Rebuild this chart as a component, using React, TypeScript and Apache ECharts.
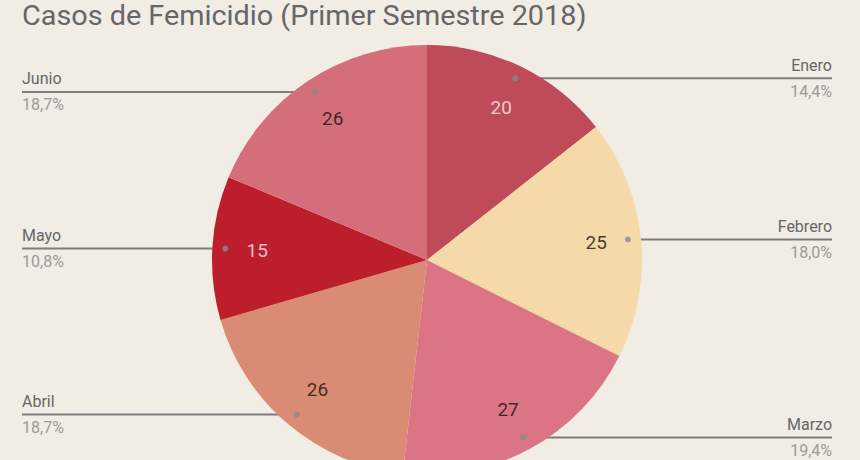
import { useEffect, useRef } from 'react';
import * as echarts from 'echarts';

const titulo = 'Casos de Femicidio (Primer Semestre 2018)';
const meses = ['Enero', 'Febrero', 'Marzo', 'Abril', 'Mayo', 'Junio'];
const casos = [20, 25, 27, 26, 15, 26];
const colores = ['#be4a5a', '#f6d9a9', '#db7585', '#d98b73', '#bd1e2c', '#d56e7b'];
const coloresValor = ['#f7ecec', '#141010', '#141010', '#141010', '#f7ecec', '#141010'];

const FONT = 'Roboto, "Noto Sans", sans-serif';
const CENTER = [427, 260];
const RADIUS = 215;

export default function App() {
  const chartRef = useRef<HTMLDivElement>(null);

  useEffect(() => {
    if (!chartRef.current) return;
    const chart = echarts.init(chartRef.current, undefined, { renderer: 'svg' });

    const total = casos.reduce((a, b) => a + b, 0);
    // middle of each slice, in "cases" units along the angle axis
    const mitades = casos.map((v, i) => casos.slice(0, i).reduce((a, b) => a + b, 0) + v / 2);

    const pieData = meses.map((m, i) => ({
      name: m,
      value: casos[i],
      itemStyle: { color: colores[i] },
    }));

    chart.setOption({
      animation: false,
      backgroundColor: '#f1ede4',
      graphic: [
        {
          type: 'text',
          x: 22,
          y: 2,
          scaleX: 1.067,
          style: {
            text: titulo,
            font: `27px ${FONT}`,
            fill: '#666666',
            verticalAlign: 'top',
          },
        },
      ],
      polar: { center: CENTER, radius: RADIUS },
      angleAxis: {
        type: 'value',
        min: 0,
        max: total,
        startAngle: 90,
        clockwise: true,
        show: false,
      },
      radiusAxis: { type: 'value', min: 0, max: RADIUS, show: false },
      series: [
        {
          type: 'pie',
          center: CENTER,
          radius: RADIUS,
          startAngle: 90,
          clockwise: true,
          silent: true,
          label: { show: false },
          labelLine: { show: false },
          data: pieData,
        },
        {
          // transparent copy, carries the outside labels and leader lines
          type: 'pie',
          center: CENTER,
          radius: 202,
          startAngle: 90,
          clockwise: true,
          silent: true,
          percentPrecision: 1,
          avoidLabelOverlap: false,
          itemStyle: { color: 'rgba(0,0,0,0)' },
          label: {
            show: true,
            position: 'outside',
            formatter: (p: any) => `{n|${p.name}}\n{p|${p.percent.toFixed(1).replace('.', ',')}%}`,
            rich: {
              n: { fontFamily: FONT, fontSize: 16, color: '#666666', lineHeight: 26 },
              p: { fontFamily: FONT, fontSize: 16, color: '#9a9a9a', lineHeight: 26 },
            },
          },
          labelLine: {
            show: true,
            length: 5,
            length2: 5,
            lineStyle: { color: '#7d7d7d', width: 2 },
          },
          labelLayout: (params: any) => {
            const [sx, sy] = params.labelLinePoints[0];
            const izq = sx < chart.getWidth() / 2;
            const ex = izq ? 22 : 832;
            return {
              x: ex,
              y: sy,
              align: izq ? 'left' : 'right',
              verticalAlign: 'middle',
              labelLinePoints: [
                [sx, sy],
                [ex, sy],
                [ex, sy],
              ],
            };
          },
          data: meses.map((m, i) => ({ name: m, value: casos[i] })),
        },
        {
          // dots at the start of each leader line
          type: 'scatter',
          coordinateSystem: 'polar',
          silent: true,
          symbolSize: 6,
          itemStyle: { color: '#8a8a8a' },
          data: mitades.map((a) => [202, a]),
        },
        {
          // values inside the slices
          type: 'scatter',
          coordinateSystem: 'polar',
          silent: true,
          symbolSize: 1,
          itemStyle: { color: 'rgba(0,0,0,0)' },
          data: mitades.map((a, i) => ({
            value: [170, a],
            label: {
              show: true,
              position: 'inside',
              formatter: String(casos[i]),
              fontFamily: FONT,
              fontSize: 19,
              color: coloresValor[i],
            },
          })),
        },
      ],
    });

    return () => {
      chart.dispose();
    };
  }, []);

  return (
    <div
      ref={chartRef}
      style={{ position: 'fixed', left: 0, top: 0, width: 860, height: 460 }}
    />
  );
}
